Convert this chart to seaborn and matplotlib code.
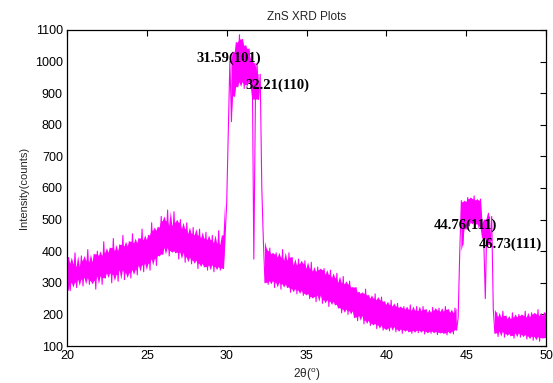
import numpy as np
import pandas as pd
import matplotlib
matplotlib.use("Agg")
import matplotlib.pyplot as plt
import seaborn as sns

# ---- data (2theta grid of 0.1 deg) ----
two_theta = np.round(np.arange(200, 501) / 10.0, 1)

bg_20_30 = [
    295, 380, 275, 360, 300, 395, 285, 350, 310, 385,
    290, 370, 315, 405, 295, 365, 305, 390, 280, 400,
    320, 385, 295, 430, 315, 395, 330, 410, 300, 440,
    325, 400, 305, 420, 340, 450, 310, 415, 330, 430,
    315, 455, 340, 425, 325, 440, 355, 470, 335, 435,
    360, 450, 340, 490, 375, 465, 355, 475, 385, 510,
    390, 495, 410, 530, 385, 480, 400, 525, 395, 490,
    375, 500, 395, 470, 365, 490, 380, 455, 360, 475,
    370, 450, 345, 470, 360, 440, 350, 460, 340, 435,
    355, 450, 335, 425, 350, 465, 340, 420, 345, 450,
]
peak_101_110 = [
    550, 780, 1000, 810, 1030, 890, 1060, 920, 1085, 935,
    1070, 915, 1050, 925, 1040, 935, 1010, 375, 880, 995,
    880, 960, 600, 430, 300,
]
bg_32_44 = [
    400, 295, 410, 305, 390,
    285, 395, 300, 380, 280, 405, 295, 370, 285, 395,
    270, 380, 280, 355, 265, 375, 275, 360, 260, 370,
    265, 345, 250, 365, 255, 335, 240, 350, 260, 340,
    235, 345, 245, 325, 225, 340, 240, 315, 230, 330,
    220, 300, 205, 320, 215, 295, 200, 305, 210, 285,
    190, 285, 180, 270, 195, 265, 170, 280, 180, 260,
    165, 250, 170, 265, 155, 245, 165, 255, 150, 240,
    155, 230, 148, 245, 160, 225, 145, 235, 152, 220,
    140, 225, 150, 215, 145, 230, 140, 212, 148, 225,
    142, 210, 148, 225, 138, 215, 145, 205, 140, 222,
    145, 212, 136, 220, 142, 208, 140, 225, 135, 215,
    145, 205, 138, 220, 150,
]
peak_111 = [
    190, 400, 560, 420, 555, 470, 570, 480, 565, 490,
    575, 485, 560, 475, 565, 480, 440, 250, 500, 520,
    420, 510, 215,
]
bg_47_50 = [
    140, 205, 130, 190, 145, 210, 128, 195, 138, 185,
    132, 205, 125, 190, 140, 200, 128, 195, 135, 210,
    122, 190, 130, 205, 118, 200, 128, 215, 115, 195,
    125, 205, 160,
]

peak_labels = ["31.59(101)", "32.21(110)", "44.76(111)", "46.73(111)"]
label_x = [28.1, 31.15, 42.94, 45.76]
label_y = [1011, 926, 483, 422]

x_ticks = [20, 25, 30, 35, 40, 45, 50]
y_ticks = [100, 200, 300, 400, 500, 600, 700, 800, 900, 1000, 1100]

intensity = bg_20_30 + peak_101_110 + bg_32_44 + peak_111 + bg_47_50
df = pd.DataFrame({"two_theta": two_theta, "intensity": intensity})
# dense core of the noisy trace (derived from the same readings)
roll = df["intensity"].rolling(5, center=True, min_periods=1)
df["core_lo"] = roll.quantile(0.25, interpolation="lower")
df["core_hi"] = roll.quantile(0.75, interpolation="higher")
core_ok = (df["core_hi"] - df["core_lo"]) < 200  # skip steep peak flanks

# ---- plotting ----
sns.set_style("white")
plt.rcParams["font.family"] = ["Liberation Sans", "DejaVu Sans"]
plt.rcParams["mathtext.fontset"] = "custom"
plt.rcParams["mathtext.rm"] = "Liberation Sans"

MAGENTA = "#FF00FF"
fig = plt.figure(figsize=(5.53, 3.83), dpi=100)
ax = fig.add_axes([0.1212, 0.0966, 0.8661, 0.8251])

ax.fill_between(df["two_theta"], df["core_lo"], df["core_hi"], where=core_ok,
                color=MAGENTA, linewidth=0)
sns.lineplot(data=df, x="two_theta", y="intensity", color=MAGENTA,
             linewidth=0.8, ax=ax, estimator=None, sort=False)

ax.set_xlim(20, 50)
ax.set_ylim(100, 1100)
ax.set_xticks(x_ticks)
ax.set_yticks(y_ticks)
ax.tick_params(direction="in", length=4, width=0.8, top=True, right=True,
               labelsize=9, colors="black")
ax.tick_params(axis="x", pad=3)
ax.tick_params(axis="y", pad=3)
for s in ax.spines.values():
    s.set_visible(True)
    s.set_color("black")
    s.set_linewidth(0.9)

ax.set_title("ZnS XRD Plots", fontsize=8.5, pad=7)
ax.set_xlabel("2θ($^{\\mathrm{o}}$)", fontsize=8.5, labelpad=3)
ax.set_ylabel("Intensity(counts)", fontsize=8, labelpad=4)

for t, xx, yy in zip(peak_labels, label_x, label_y):
    ax.text(xx, yy, t, fontsize=10.5, fontweight="bold",
            family=["Liberation Serif"], ha="left", va="center", color="black")

fig.savefig("out.png", dpi=100)
